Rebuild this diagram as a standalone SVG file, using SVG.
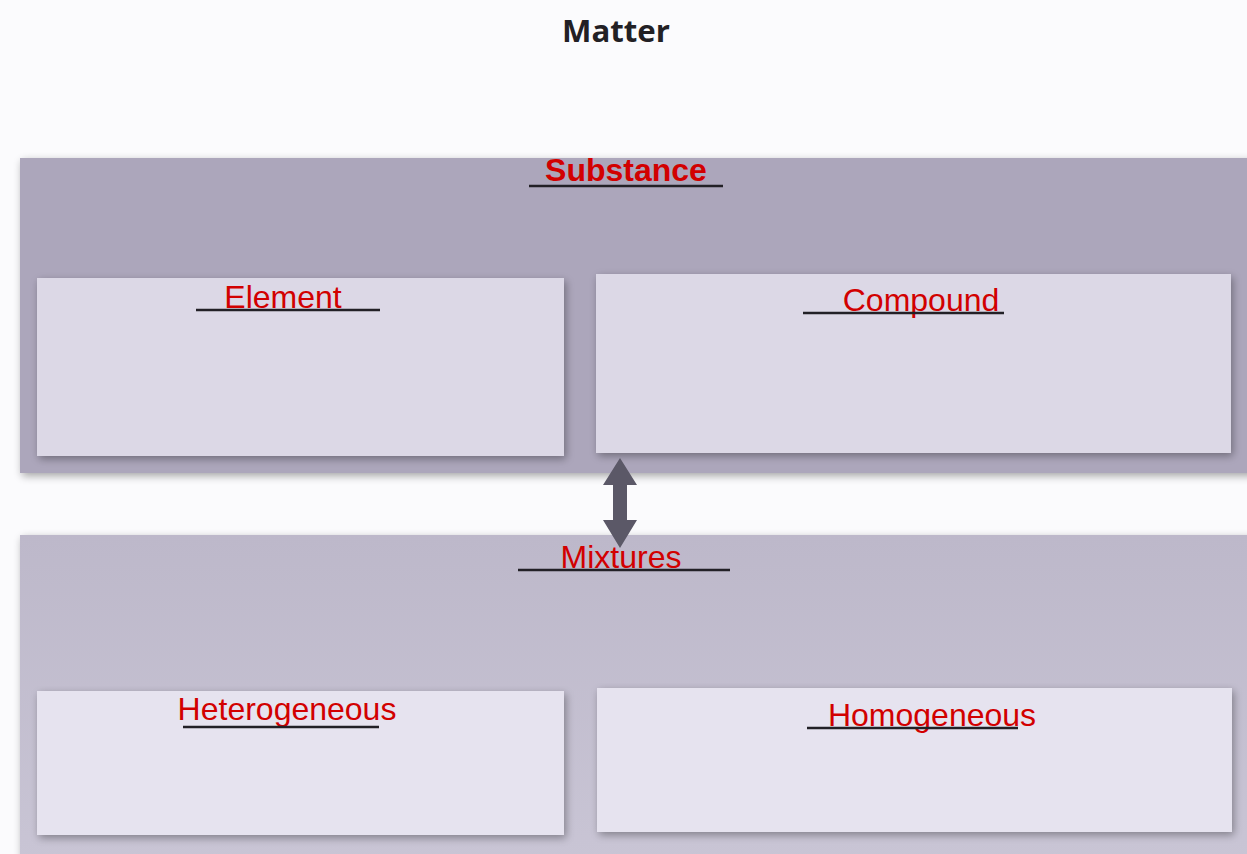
<svg xmlns="http://www.w3.org/2000/svg" width="1247" height="854" viewBox="0 0 1247 854">
<defs>
<filter id="sh" x="-5%" y="-5%" width="110%" height="115%"><feGaussianBlur in="SourceAlpha" stdDeviation="4"/><feOffset dx="2" dy="3"/><feComponentTransfer><feFuncA type="linear" slope="0.35"/></feComponentTransfer><feMerge><feMergeNode/><feMergeNode in="SourceGraphic"/></feMerge></filter>
<linearGradient id="gb" x1="0" y1="0" x2="0" y2="1"><stop offset="0" stop-color="#bdb8ca"/><stop offset="1" stop-color="#c9c5d5"/></linearGradient>
</defs>
<style>
.lbl{font-family:"Liberation Sans",Arial,sans-serif;font-size:32px;fill:#d20000}
.ul{stroke:#222026;stroke-width:2.5}
.box{fill:#dcd8e6;filter:url(#sh)}
.box2{fill:#e6e3ef;filter:url(#sh)}
</style>
<rect width="1247" height="854" fill="#fbfbfd"/>
<text x="616" y="42" text-anchor="middle" font-family="'Open Sans','Liberation Sans',sans-serif" font-weight="bold" font-size="30" fill="#222024" textLength="108" lengthAdjust="spacingAndGlyphs">Matter</text>
<g id="substance">
<rect x="20" y="158" width="1240" height="315" fill="#aca6bb" filter="url(#sh)"/>
<text class="lbl" x="626" y="181" text-anchor="middle" font-weight="bold">Substance</text>
<line class="ul" x1="529" y1="186" x2="723" y2="186"/>
</g>
<g id="element">
<rect class="box" x="37" y="278" width="527" height="178"/>
<text class="lbl" x="283" y="308" text-anchor="middle">Element</text>
<line class="ul" x1="196" y1="310" x2="380" y2="310"/>
</g>
<g id="compound">
<rect class="box" x="596" y="274" width="635" height="179"/>
<text class="lbl" x="921" y="311" text-anchor="middle">Compound</text>
<line class="ul" x1="803" y1="313" x2="1004" y2="313"/>
</g>
<g id="mixtures">
<rect x="20" y="535" width="1240" height="330" fill="url(#gb)" filter="url(#sh)"/>
<text class="lbl" x="621" y="568" text-anchor="middle">Mixtures</text>
<line class="ul" x1="518" y1="570" x2="730" y2="570"/>
</g>
<g id="heterogeneous">
<rect class="box2" x="37" y="691" width="527" height="144"/>
<text class="lbl" x="287" y="720" text-anchor="middle">Heterogeneous</text>
<line class="ul" x1="183" y1="727" x2="379" y2="727"/>
</g>
<g id="homogeneous">
<rect class="box2" x="597" y="688" width="635" height="144"/>
<text class="lbl" x="932" y="726" text-anchor="middle">Homogeneous</text>
<line class="ul" x1="807" y1="728" x2="1018" y2="728"/>
</g>
<g id="connectors">
<polygon points="620,458 637,485 627,485 627,520 637,520 620,548 603,520 613,520 613,485 603,485" fill="#5b5867"/>
</g>
</svg>
